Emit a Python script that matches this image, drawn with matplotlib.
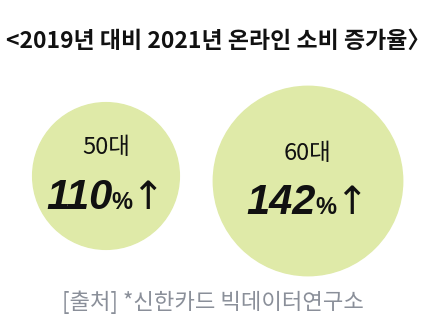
import matplotlib
matplotlib.use("Agg")
import matplotlib.pyplot as plt
from matplotlib.patches import Circle

plt.rcParams['font.family'] = ['Noto Sans CJK KR', 'DejaVu Sans']

title = "<2019년 대비 2021년 온라인 소비 증가율〉"
groups = ["50대", "60대"]
growth = [110, 142]
source = "[출처] *신한카드 빅데이터연구소"

centers_x = [106, 308]
centers_y = [176, 181]
scale = 0.667  # circle radius in px per % growth

fig = plt.figure(figsize=(4.38, 3.32), dpi=100)
ax = fig.add_axes([0, 0, 1, 1])
ax.set_xlim(0, 438)
ax.set_ylim(332, 0)
ax.axis('off')

ax.text(218, 41, title, ha='center', va='center', fontsize=16.5, fontweight='bold', color='#111111')

fig.canvas.draw()
renderer = fig.canvas.get_renderer()

def width_px(t):
    return t.get_window_extent(renderer).width

for g, v, cx, cy in zip(groups, growth, centers_x, centers_y):
    ax.add_patch(Circle((cx, cy), v * scale, color='#dfeaa8', zorder=1))
    ax.text(cx, cy - 28, g, ha='center', va='center', fontsize=17, color='#111111', zorder=2)
    # value line: number + small % + arrow
    t1 = ax.text(0, 0, str(v), fontsize=30, fontweight='bold', style='italic',
                 family='Liberation Sans', va='baseline')
    t2 = ax.text(0, 0, "%", fontsize=17, fontweight='bold', family='Liberation Sans', va='baseline')
    t3 = ax.text(0, 0, "↑", fontsize=28, family='DejaVu Sans', va='baseline')
    ws = [width_px(t) for t in (t1, t2, t3)]
    total = sum(ws)
    x = cx - total / 2
    base = cy + 33
    for t, w in zip((t1, t2, t3), ws):
        t.set_position((x, base))
        t.set_color('#111111')
        t.set_zorder(2)
        x += w - 1

ax.text(213, 302, source, ha='center', va='center', fontsize=16, color='#8a8f99')

fig.savefig("out.png", dpi=100)
